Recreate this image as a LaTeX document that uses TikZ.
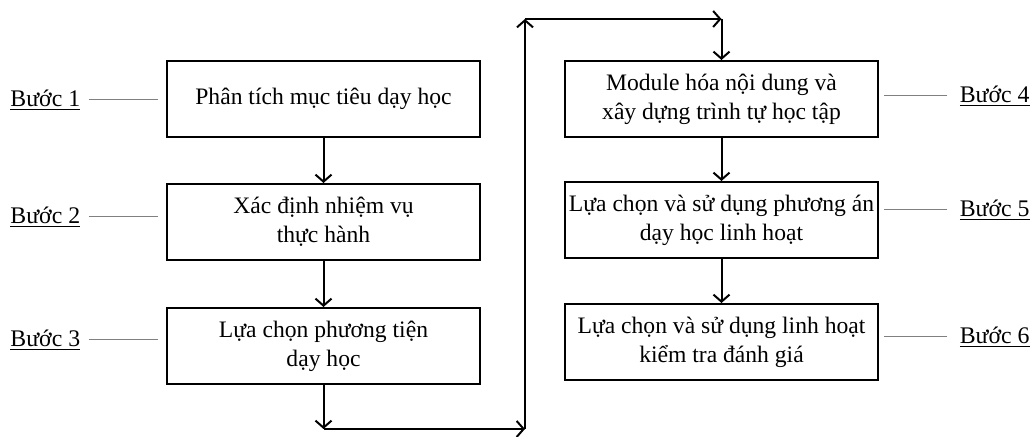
\documentclass[tikz,border=0pt]{standalone}
\usepackage{fontspec}
\setmainfont{Liberation Serif}
\usetikzlibrary{arrows.meta}
\begin{document}
\begin{tikzpicture}[
  x=0.5pt, y=-0.5pt,
  box/.style={rectangle,draw,line width=1pt,minimum width=156.5pt,minimum height=38pt,
    align=center,inner sep=2pt,font=\fontsize{11.8}{14.5}\selectfont},
  steplabel/.style={inner sep=0pt,font=\fontsize{11.9}{13}\selectfont},
  tick/.style={gray,line width=0.5pt},
  flow/.style={line width=1pt,-{Straight Barb[length=3.5pt,width=8pt,line width=1pt]}},
]
  \useasboundingbox (0,0) rectangle (1035,437);
  % left column
  \node[box] (b1) at (323.5,99)  {Phân tích mục tiêu dạy học};
  \node[box] (b2) at (323.5,222) {Xác định nhiệm vụ\\thực hành};
  \node[box] (b3) at (323.5,346) {Lựa chọn phương tiện\\dạy học};
  % right column
  \node[box] (b4) at (721.5,99)  {Module hóa nội dung và\\xây dựng trình tự học tập};
  \node[box] (b5) at (721.5,220) {Lựa chọn và sử dụng phương án\\dạy học linh hoạt};
  \node[box] (b6) at (721.5,342) {Lựa chọn và sử dụng linh hoạt\\kiểm tra đánh giá};
  % step labels
  \node[steplabel,anchor=west] (s1) at (10,100)   {\underline{Bước 1}};
  \node[steplabel,anchor=west] (s2) at (10,217)   {\underline{Bước 2}};
  \node[steplabel,anchor=west] (s3) at (10,340)   {\underline{Bước 3}};
  \node[steplabel,anchor=east] (s4) at (1030,96)  {\underline{Bước 4}};
  \node[steplabel,anchor=east] (s5) at (1030,210) {\underline{Bước 5}};
  \node[steplabel,anchor=east] (s6) at (1030,337) {\underline{Bước 6}};
  \draw[tick,shorten <=4pt,shorten >=4pt] (s1.east) -- (s1.east -| b1.west);
  \draw[tick,shorten <=4pt,shorten >=4pt] (s2.east) -- (s2.east -| b2.west);
  \draw[tick,shorten <=4pt,shorten >=4pt] (s3.east) -- (s3.east -| b3.west);
  \draw[tick,shorten <=6pt,shorten >=2.5pt] (s4.west) -- (s4.west -| b4.east);
  \draw[tick,shorten <=6pt,shorten >=2.5pt] (s5.west) -- (s5.west -| b5.east);
  \draw[tick,shorten <=6pt,shorten >=2.5pt] (s6.west) -- (s6.west -| b6.east);
  % flow
  \coordinate (c1) at (323.5,429);
  \coordinate (c2) at (525,429);
  \coordinate (c3) at (525,19);
  \coordinate (c4) at (721.5,19);
  \draw[flow] (b1) -- (b2);
  \draw[flow] (b2) -- (b3);
  \draw[flow] (b3) -- (c1);
  \draw[flow] (c1) -- (c2);
  \draw[flow] (c2) -- (c3);
  \draw[flow] (c3) -- (c4);
  \draw[flow] (c4) -- (b4);
  \draw[flow] (b4) -- (b5);
  \draw[flow] (b5) -- (b6);
\end{tikzpicture}
\end{document}
